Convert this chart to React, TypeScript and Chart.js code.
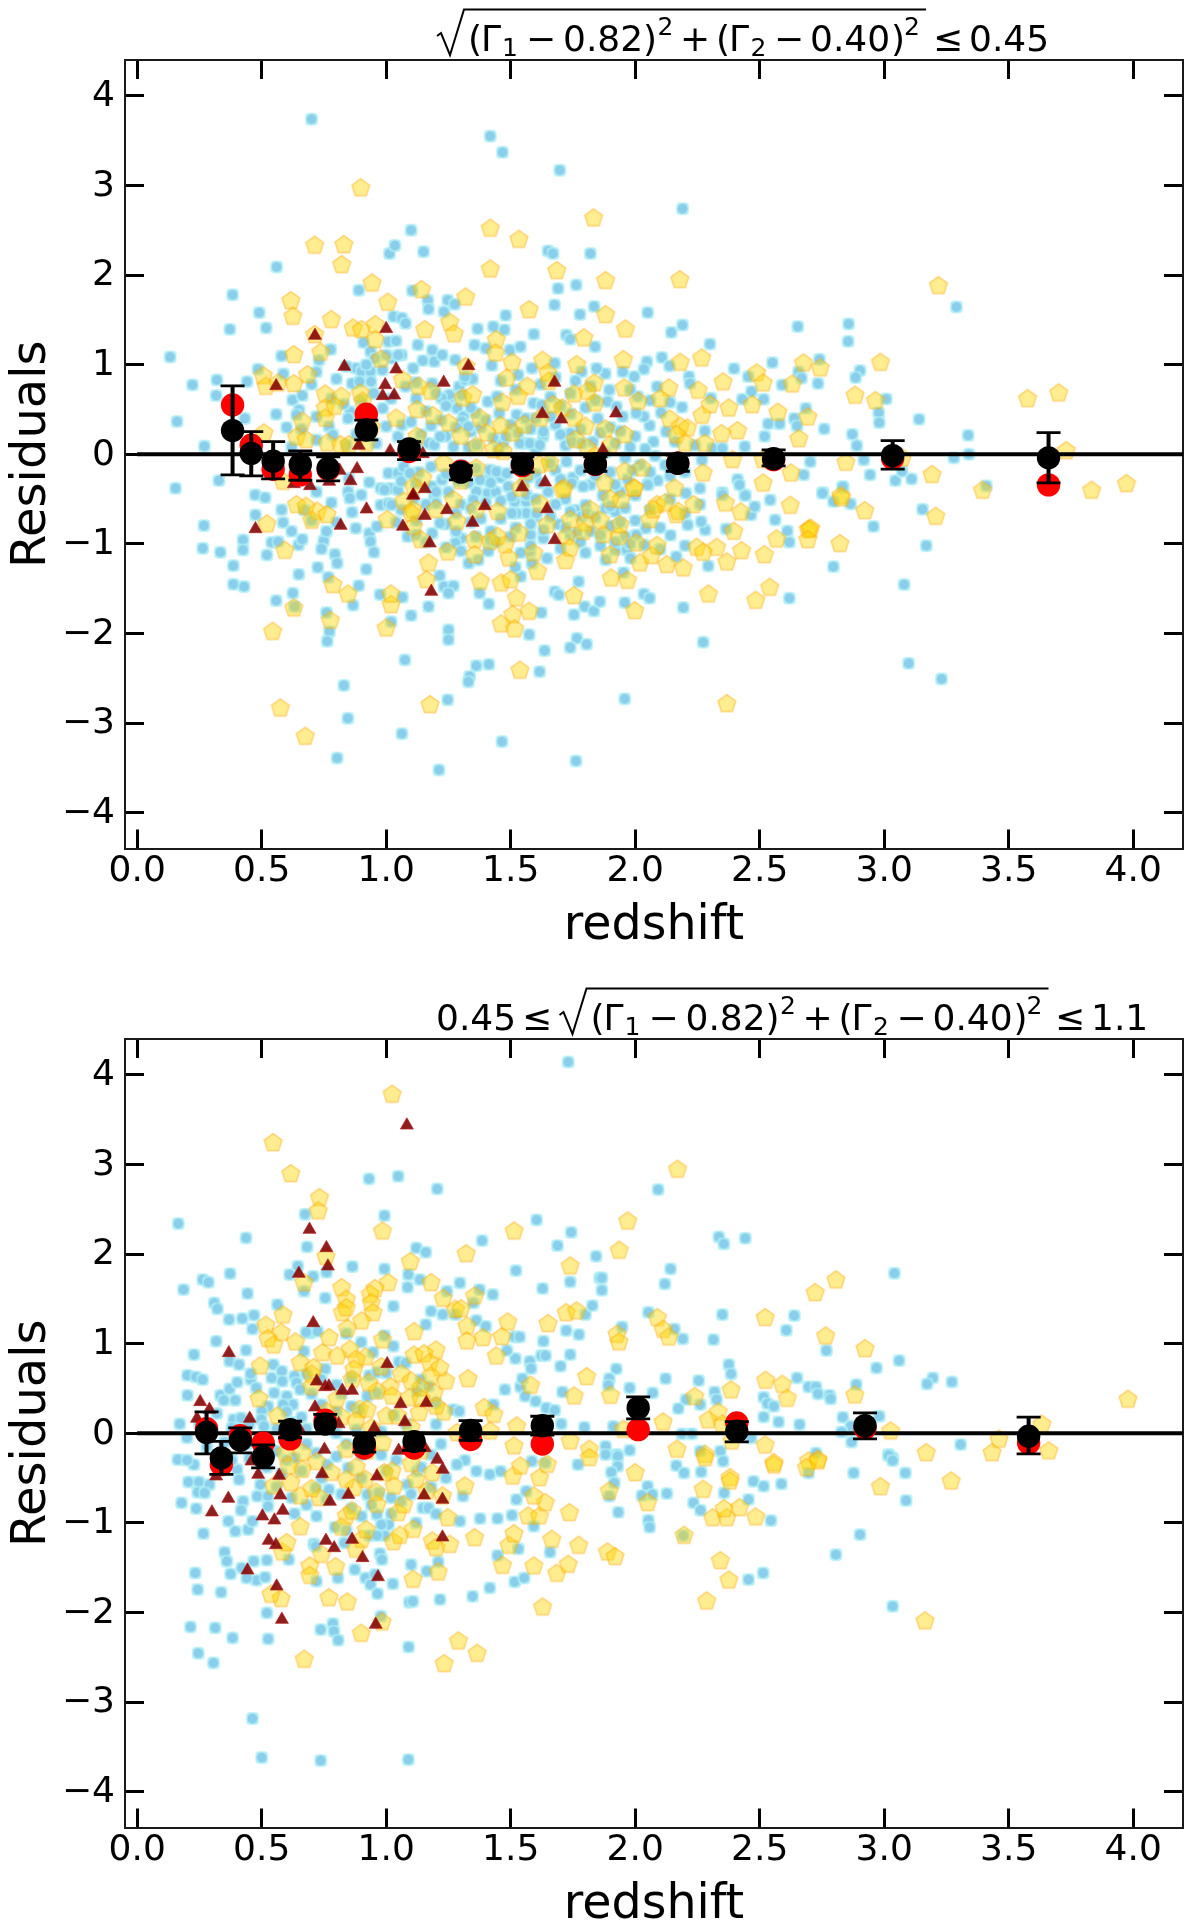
import React, { useEffect, useRef } from "react";
import { Chart, registerables } from "chart.js";

Chart.register(...registerables);

const xTickValues = [0, 0.5, 1, 1.5, 2, 2.5, 3, 3.5, 4];
const yTickValues = [-4, -3, -2, -1, 0, 1, 2, 3, 4];

const topBlue: number[][] = [
[.70,3.74],[1.418,3.55],[1.467,3.37],[1.697,3.17],[.56,2.09],[.383,1.78],[.49,1.58],[.372,1.395],[.518,1.41],[.132,1.086],[.222,.774],[.32,.83],[.317,.655],[.441,.81],[.16,.365],[.27,.09],[.328,-.294],[.154,-.38],[.58,1.097],[.587,.897],[.485,.95],[.777,1.17],[.73,1.05],[.89,1.83],[1.013,2.24],[1.035,2.33],[1.10,2.5],[1.15,2.26],[1.105,1.826],[1.167,1.72],[1.17,1.62],[1.247,1.72],[1.275,1.674],[1.232,1.59],[1.03,1.536],[1.063,1.52],[1.078,1.46],[1.367,1.4],[1.43,1.425],[1.475,1.39],[1.48,1.55],[1.593,1.34],[1.65,2.27],[1.67,2.24],[1.82,2.24],[1.69,1.85],[1.676,1.667],[1.763,1.89],[1.778,1.56],[1.835,1.65],
[2.19,2.74],[2.05,1.58],[2.19,1.443],[2.145,1.36],[2.30,1.23],[2.653,1.425],[2.857,1.455],[2.855,1.26],[3.29,1.644],[2.903,.934],[2.885,.856],[3.008,.617],[2.978,.465],[2.98,.353],[3.14,.39],[3.337,.212],[3.34,0],[3.28,-.04],[2.74,1.06],[2.551,1.023],[2.397,.956],[2.107,1.08],[2.047,1.034],[2.035,.95],[2.138,.986],[2.216,.867],[2.22,.79],[2.454,.867],[2.467,.70],[2.43,.614],[2.516,.614],[2.59,.774],[2.656,.92],[2.668,.85],[2.734,.79],[2.685,.513],[2.639,.40],[2.65,.316],[2.759,.283],[2.872,.223],[2.89,.097],[2.918,-.063],[2.943,-.23],[3.045,-.294],[3.072,-.19],[3.11,-.275],[2.703,-.085],[2.677,-.23],[2.754,-.428],[2.834,-.368],[3.41,-.353],[2.534,.339],[2.58,.339],[2.52,.2],[2.44,.086],[2.311,.067],[2.35,.067],[2.268,-.063],[2.411,-.28],[2.44,-.454],[2.35,-.428],[2.26,-.38],[2.09,-.294],[2.053,-.33],[2.204,-.435],[2.188,.525],[2.104,.465],[2.058,.32],[2.035,.42],[2.124,.253],[2.073,.14],[2.0,.2],[2.088,.755],[2.01,.644],[1.88,.9],[1.996,.867],[1.95,.92],[1.896,.718],[1.889,.588],[2.004,.458],[2.304,.625],
[.474,-.454],[.514,-.484],[.475,-.677],[.586,-.763],[.268,-.796],[.263,-1.05],[.334,-1.094],[.425,-.956],[.425,-1.068],[.386,-1.243],[.386,-1.451],[.429,-1.477],[.521,-1.124],[.54,-.983],[.566,-.975],[.648,-1.012],[.663,-.949],[.749,-.967],[.74,-1.057],[.794,-1.116],[.803,-1.216],[.725,-1.262],[.649,-1.34],[.767,-1.373],[.89,-1.466],[.92,-1.283],[.625,-1.55],[.558,-1.633],[.632,-1.7],[.76,-1.767],[.867,-1.685],[.772,-1.98],[.763,-2.087],[.975,-1.566],[1.065,-1.596],[1.02,-1.868],[1.1,-1.8],[1.17,-1.7],[1.075,-2.295],[1.25,-1.96],[1.25,-2.07],[1.215,-1.354],[1.232,-1.477],[1.27,-1.47],[1.25,-1.55],[1.375,-1.55],[1.412,-1.67],[1.362,-2.36],[1.412,-2.345],[1.335,-2.48],[1.33,-2.54],[.83,-2.58],[.846,-2.947],[1.247,-2.74],[1.063,-3.118],[1.465,-3.207],[.803,-3.39],[1.212,-3.523],[1.762,-3.423],[1.616,-2.426],[1.636,-2.191],[1.574,-2.013],[1.677,-1.533],[1.693,-1.57],[1.773,-1.421],[1.754,-1.79],[1.797,-1.7],[1.834,-1.75],[1.766,-2.053],[1.739,-2.158],[1.805,-2.12],[1.623,-1.767],[1.54,-1.365],[1.519,-1.26],[1.585,-1.216],
[1.958,-2.73],[2.273,-2.098],[2.619,-1.607],[2.193,-1.711],[2.035,-1.559],[2.058,-1.607],[1.958,-1.655],[1.858,-1.645],[2.796,-1.254],[2.293,-1.247],[3.169,-1.02],[3.08,-1.455],[3.098,-2.333],[3.23,-2.508],[3.154,-.614],[2.957,-.807],[2.611,-.856],[2.619,-.982],[2.562,-.733],[2.211,-.789],[2.281,-.845],[2.265,-.752],[2.142,-.904],[2.165,-1.142],[2.2,-1.02],[1.953,-1.321],[2.465,-.677],[2.48,-.585],[2.442,-.461],[2.419,-.342],[2.35,-.454],[2.542,-.51],[2.796,-.528],[2.752,-.435],[2.865,-.554],[2.834,-.361],[2.365,-.833],[2.042,-.826],[2.004,-.9],[1.881,-.603],[1.92,-.64],[2.05,-.343],[1.881,-1.179],[1.92,-1.068],[1.966,-1.068],[1.981,-1.161],[2.035,-1.012],
[.909,1.246],[.937,1.146],[.955,1.07],[1.009,1.257],[1.04,1.265],[1.024,1.07],[1.062,1.108],[1.127,1.22],[1.185,1.164],[1.147,1.045],[1.193,1.034],[1.225,1.108],[1.277,1.053],[1.355,1.22],[1.4,1.183],[1.424,.99],[1.497,1.164],[1.539,1.2],[1.585,.96],[1.677,1.016],[1.723,1.332],[1.739,1.283],[1.839,1.2],[.878,.96],[.901,.923],[.937,.923],[.985,.94],[1.108,.96],[.863,.79],[.893,.81],[.939,.81],[1.078,.755],[1.293,.755],[1.316,.83],[1.347,.84],[1.185,.79],[.624,.606],[.663,.655],[.65,.495],[.558,.446],[.64,.44],[.432,.4],[.855,.476],[.847,.40],[.77,.31],[.786,.216],[.986,.513],[1.0,.31],[1.063,.327],[1.047,.197],[1.254,.625],[1.285,.513],[1.34,.253],[1.408,.588],[1.445,.644],[1.454,.458],[1.524,.44],[1.592,.57],[1.631,.513],[1.739,.234],[1.17,.123],[1.193,.104],[1.27,.086],[1.562,.123],[1.6,.067],[1.009,-.212],[.85,-.268],[.932,-.3125],[.978,-.38],[1.016,-.38],[1.047,-.212],[1.185,-.36],[1.224,-.286],[1.408,-.286],
[.847,-.417],[.9,-.454],[.863,-.647],[.878,-.826],[.932,-.882],[.937,-.975],[.951,-1.094],[.963,-.807],[.978,-.566],[.993,-.398],[1.047,-.398],[1.009,-.547],[1.185,-.882],[1.086,-.919],[1.193,-.472],[1.2,-.547],[1.301,-.937],[1.278,-.993],[1.331,-1.216],[1.37,-1.18],[1.408,-.435],[1.362,-.417],[1.516,-.528],[1.562,-.528],[1.562,-.658],[1.523,-.658],[1.6,-.696],[1.761,-.622],[1.8,-.566],[1.785,-.696],[1.646,-1.161],[1.577,-1.086],[1.631,-.937],
];

const topBlueDense: number[][] = [
[1.12,.62],[1.16,.48],[1.22,.38],[1.31,.42],[1.38,.3],[1.43,.18],[1.5,.33],[1.58,.28],[1.63,.2],[1.68,.33],[1.74,.45],[1.8,.52],[1.85,.4],[1.9,.3],[1.95,.42],[1.98,.08],[1.72,.1],[1.83,.14],[1.92,.12],[1.66,.64],[1.74,.68],[1.82,.76],[1.62,.78],[1.52,.72],[1.46,.82],[1.14,.22],[1.08,.1],[1.24,.2],[1.33,.08],[1.45,.06],[1.07,-.14],[1.13,-.2],[1.29,-.3],[1.36,-.16],[1.46,-.26],[1.6,-.22],[1.68,-.18],[1.75,-.26],[1.82,-.34],[1.9,-.2],[1.97,-.28],[2.02,-.12],[2.12,-.12],[2.2,-.2],[2.24,.1],[2.28,.26],[1.06,-.3],[1.11,-.5],[1.25,-.42],[1.3,-.56],[1.44,-.42],[1.49,-.36],[1.55,-.34],[1.65,-.42],[1.72,-.5],[1.87,-.46],[1.94,-.42],[1.46,-.72],[1.52,-.82],[1.58,-.9],[1.69,-.78],[1.74,-.9],[1.82,-.86],[1.9,-.8],[1.96,-.92],[1.34,-.76],[1.42,-.86],[1.24,-.78],[1.12,-.74],[1.06,-.62],[1.7,-1.05],[1.8,-1.1],[1.86,-1.02],[1.54,-1.1],[1.41,-1.08],[.78,.62],[.83,.56],[.9,.6],[.95,.68],[1.02,.62],[.72,.42],[.92,.34],[.96,.12],[.88,.22],[.72,-.42],[.78,-.54],[.67,-.62],
[1.222,1.108],[1.149,1.045],[.935,.922],[.981,.922],[.941,.81],[.865,.792],[1.048,1.108],[1.0,1.108],[1.008,1.257],[1.042,1.268],[1.253,.662],[1.222,.624],[1.303,.662],[1.35,.848],[1.316,.866],[1.403,.606],[1.443,.662],[1.457,.457],[1.584,.576],[1.624,.55],[1.631,.252],[1.537,.122],[1.577,.122],[1.617,.104],[1.658,-.101],[1.724,-.083],[1.745,.141],[1.785,.122],[1.898,.717],[1.892,.569],[1.925,.531],[1.845,.959],[1.885,.922],[1.952,.922],[1.785,.922],[1.59,.959],[1.53,.885],[1.584,1.331],[1.537,1.182],[1.35,1.22],[1.423,.985],[.995,.308],[1.048,.215],[1.068,.345],[1.122,.122],[1.162,.122],[1.216,.197],[1.2,.104],[1.263,.085],[1.303,.364],[1.33,.308],[1.47,.122],[1.363,.104],[1.417,-.175],[1.443,-.194],[1.484,-.213],[1.376,-.287],[1.37,-.436],[1.41,-.436],[1.008,-.213],[1.055,-.287],[1.095,-.213],[.981,-.361],[1.022,-.361],[.928,-.324],[.854,-.492],[.901,-.436],[.975,-.585],[1.022,-.566],[.861,-.64],[.881,-.827],[.935,-.882],[.948,-1.098],[.8,-1.106],[.8,-1.217],[.917,-1.284],[1.189,-.882],[1.216,-.77],[1.276,-.994],[1.309,-.92],[1.35,-.51],[1.504,-.473],[1.564,-.455],[1.504,-.659],[1.564,-.659],[1.604,-.659],[1.631,-.845],[1.644,-1.143],[1.765,-.882],[1.811,-.585],[1.878,-.585],[1.805,-.659],[1.925,-.659],[1.417,-.957],[1.745,-.324],[1.791,-.361],
[1.98,.72],[2.06,.6],[2.14,.58],[2.16,.14],[2.04,.06],[1.88,.02],[1.96,-.04],[2.08,-.02],[2.14,-.24],[2.0,-.46],[2.06,-.62],[2.14,-.5],[2.2,-.66],[2.26,-.56],[1.94,-.76],[2.1,-.82],[1.98,-1.0],[2.1,-1.06],[.72,.16],[.66,.28],[.6,.3],[.84,.1],[.62,.08],[.7,.78],[.8,.84],[.72,.92],[.84,.98],[.92,1.0],[.62,-.86],[.7,-.74],[.8,-.76],[.76,-.86],[.58,-.62],
[1.28,.3],[1.36,.46],[1.4,.38],[1.48,.2],[1.53,.24],[1.56,.4],[1.66,.42],[1.7,.22],[1.78,.28],[1.86,.24],[1.94,.26],[1.84,.6],[1.7,.54],[1.6,.4],[1.76,.82],[1.68,.86],[1.12,-.32],[1.18,-.14],[1.24,-.22],[1.3,-.12],[1.33,-.32],[1.42,-.32],[1.52,-.14],[1.57,-.26],[1.62,-.32],[1.7,-.28],[1.78,-.18],[1.84,-.24],[1.92,-.34],[1.99,-.18],[2.06,-.2],[1.16,-.56],[1.2,-.42],[1.28,-.66],[1.34,-.6],[1.4,-.54],[1.46,-.52],[1.52,-.56],[1.6,-.5],[1.68,-.56],[1.74,-.64],[1.84,-.7],[1.9,-.58],[1.96,-.6],[2.0,-.74],[1.38,-.72],[1.44,-.98],[1.5,-.92],[1.58,-.78],[1.66,-.7],[1.72,-.82],[1.78,-.98],[1.86,-.9],[1.28,-.86],[1.36,-.92],[1.12,-.9],[1.16,-.98],[1.04,-.76],[1.24,-1.04],[1.3,-1.08],[1.58,-1.02],[1.92,-.98],[1.1,.36],[1.18,.32],[1.24,.54],[1.34,.52],[1.2,.68],[1.12,.8],
];

const topYellow: number[][] = [
[.898,2.97],[1.833,2.634],[1.418,2.519],[1.533,2.396],[.713,2.33],[.83,2.336],[.821,2.113],[1.418,2.065],[1.685,2.046],[.943,1.908],[1.142,1.834],[1.319,1.752],[1.006,1.693],[.617,1.711],[.625,1.536],[.78,1.5],[1.574,1.61],[1.255,1.47],[1.273,1.34],[1.155,1.388],[.867,1.406],[.901,1.388],[.956,1.443],[.713,1.332],[.956,1.276],[1.442,1.276],[1.439,1.127],[1.794,1.295],[.629,1.108],[.737,1.135],[.978,1.06],[1.505,1.023],[1.628,1.045],[1.765,.997],[1.32,.978],[.506,.874],[.684,.885],[.517,.755],[.566,.792],[.629,.785],[1.065,.83],[1.13,.755],[1.178,.7],[1.485,.848],[1.649,.904],[1.654,.811],[1.567,.755],[1.836,.792],[.755,.67],[.82,.644],[.897,.68],[.906,.588],[1.124,.495],[1.188,.428],[1.251,.346],[1.308,.625],[1.347,.662],[1.467,.577],[1.531,.644],[1.754,.67],[1.808,.7],[1.67,.55],[1.708,.513],[1.754,.4],[1.8,.31],[.755,.513],[.794,.532],[.663,.365],[.755,.4],[1.377,.4],[1.404,.234],[1.508,.234],[1.554,.327],[.509,.234],[.64,.19],[.678,.16],[.763,.123],[.817,.104],[.851,.104],[1.124,.197],[1.362,.086],[1.431,.048],[1.808,.067],[1.231,-.1],[1.362,-.156],[1.616,-.119],[.586,-.305],[1.715,-.38],[1.147,-.268],
[1.881,1.935],[2.179,1.946],[3.218,1.879],[1.881,1.555],[1.961,1.395],[1.953,1.053],[2.181,1.023],[2.267,1.071],[2.985,1.023],[2.676,1.016],[2.743,.96],[2.488,.904],[2.514,.792],[2.353,.804],[2.631,.781],[1.956,.737],[2.135,.737],[2.253,.711],[2.1,.618],[2.883,.655],[2.965,.595],[3.576,.618],[3.701,.681],[2.012,.588],[2.3,.55],[2.376,.513],[2.47,.55],[2.573,.465],[2.693,.413],[2.139,.39],[2.268,.432],[2.411,.26],[2.181,.31],[2.21,.29],[2.347,.227],[2.657,.171],[2.165,.216],[2.2,.123],[1.958,.216],[3.731,.037],[2.391,-.063],[2.846,-.093],[2.514,-.063],[2.273,-.212],[2.626,-.212],[2.514,-.324],[3.192,-.23],[3.395,-.405],[3.833,-.405],[3.973,-.331],[2.027,-.156],[1.958,-.193],[1.996,-.38],[2.158,-.38],[2.826,-.465],[3.072,-.045],
[2.235,-.565],[2.362,-.547],[2.424,-.647],[2.623,-.573],[2.829,-.491],[2.922,-.632],[3.207,-.696],[2.165,-.677],[2.70,-.837],[2.695,-.845],[2.705,-.83],[2.693,-.956],[2.568,-.949],[2.822,-1.0],[2.396,-.863],[2.327,-1.042],[2.247,-1.042],[2.273,-1.097],[2.427,-1.079],[2.519,-1.124],[2.368,-1.205],[2.193,-1.272],[2.127,-1.235],[2.019,-1.216],[2.065,-1.135],[2.088,-1.02],[1.9,-1.124],[1.904,-1.384],[1.969,-1.41],[2.294,-1.563],[2.54,-1.488],[2.484,-1.633],[1.998,-1.749],[2.368,-2.786],[2.058,-.733],[2.004,-.993],[1.935,-.919],[1.873,-.9],[1.943,-.51],[1.996,-.379],[2.088,-.565],[2.119,-.547],[2.173,-.64],[2.073,-.621],
[.544,-1.98],[.575,-2.835],[.675,-3.151],[1.176,-2.798],[1.537,-2.414],[1.0,-1.942],[.629,-1.719],[.776,-1.857],[1.02,-1.682],[1.019,-1.563],[.786,-1.458],[.847,-1.563],[.593,-1.075],[.521,-.781],[.64,-.566],[.678,-.584],[.724,-.64],[.762,-.677],[.701,-.74],[1.004,-.733],[1.07,-.528],[1.108,-.622],[1.139,-.956],[1.17,-1.217],[1.162,-1.403],[1.247,-1.094],[1.27,-.51],[1.284,-.752],[1.355,-.956],[1.355,-1.124],[1.378,-1.421],[1.462,-1.44],[1.5,-1.403],[1.523,-1.607],[1.508,-1.793],[1.574,-1.756],[1.462,-1.897],[1.516,-1.953],[1.608,-1.31],[1.72,-1.19],[1.754,-1.581],[1.739,-.733],[1.534,-.882],[1.647,-.789],[1.725,-.919],[1.739,-1.049],[1.592,-1.105],[1.493,-1.161],[1.478,-1.012],[1.447,-.919],[1.447,-.64],[1.362,-.622],[1.708,-.398],[1.8,-.77],[1.539,-.38],[1.1,-.658],
];

const topYellowDense: number[][] = [
[1.88,.28],[1.9,.1],[1.76,.16],[1.84,-.02],[1.62,.4],[1.46,.32],[1.1,.02],[1.3,.2],[1.04,.4],[.94,.3],[.92,.12],[1.9,-.5],[1.82,-.62],[1.86,-.74],[1.62,-.56],[1.3,-.3],[1.2,-.62],[1.56,-.2],[2.28,.12],
[1.443,1.275],[1.437,1.127],[1.504,1.034],[1.631,1.052],[1.658,.903],[1.483,.836],[1.564,.736],[1.53,.643],[1.463,.587],[1.343,.662],[1.31,.624],[1.176,.699],[1.129,.755],[1.069,.836],[.821,.643],[.794,.539],[1.129,.494],[1.182,.438],[1.249,.345],[1.376,.4],[1.403,.234],[1.51,.234],[1.557,.327],[1.671,.55],[1.711,.494],[1.758,.42],[1.798,.308],[1.872,.271],[1.838,.569],[1.805,.699],[1.751,.68],[1.845,.792],[1.959,.234],[1.129,.215],[1.363,.085],[1.43,.066],[1.47,.029],[1.805,.066],[1.912,.066],[1.236,-.101],[1.363,-.157],[1.617,-.175],[1.658,-.101],[1.155,-.268],[1.109,-.361],[1.062,-.529],[1.109,-.622],[1.269,-.51],[1.45,-.64],[1.463,-.659],[1.0,-.733],[1.109,-.808],[1.135,-.957],[1.249,-1.087],[1.169,-1.217],[1.283,-.808],[1.35,-1.106],[1.363,-.957],[1.417,-.975],[1.483,-1.031],[1.504,-1.161],[1.537,-.882],[1.631,-.808],[1.738,-.733],[1.731,-.92],[1.738,-1.031],[1.718,-1.18],[1.791,-.864],[1.845,-.752],[1.878,-.901],[1.939,-.789],[1.597,-1.106],[1.611,-1.31],[1.899,-1.124],[1.718,-.399],[1.878,-.324],[1.959,-.194],[1.959,-.492],
];

const topTriangle: number[][] = [
[.714,1.324],[1.0,1.4],[.832,.978],[1.04,.949],[1.33,.986],[.558,.763],[.996,.774],[1.231,.8],[1.676,.8],[.986,.651],[1.032,.658],[1.627,.45],[1.703,.39],[.89,.097],[1.016,.037],[1.147,.004],[.813,-.182],[.883,-.164],[.857,-.298],[.629,-.331],[.694,-.353],[.771,-.305],[1.155,-.387],[1.109,-.454],[1.546,-.368],[1.638,-.312],[1.923,.458],[1.87,.048],[.475,-.834],[.817,-.796],[.921,-.614],[1.067,-.807],[1.155,-.685],[1.108,-.461],[1.244,-.621],[1.347,-.763],[1.396,-.577],[1.646,-.61],[1.175,-.993],[1.181,-1.533],[1.677,-.956],
];

const topRedZ = [.383,.458,.546,.655,.767,.92,1.092,1.30,1.547,1.84,2.171,2.556,3.034,3.66];
const topRedY = [.55,.10,-.167,-.23,-.17,.446,.03,-.19,-.127,-.115,-.10,-.06,-.045,-.342];
const topBlackZ = [.383,.458,.546,.655,.767,.92,1.092,1.30,1.547,1.84,2.171,2.556,3.034,3.66];
const topBlackY = [.264,.01,-.078,-.115,-.156,.27,.06,-.2,-.11,-.108,-.10,-.05,-.015,-.04];
const topBlackHi = [.763,.253,.14,.037,-.03,.38,.14,-.127,-.03,-.03,-.01,.048,.153,.242];
const topBlackLo = [-.23,-.242,-.275,-.29,-.298,.16,-.06,-.286,-.2,-.19,-.19,-.13,-.167,-.32];

const botBlue: number[][] = [
[1.731,4.144],[.931,2.839],[1.048,2.868],[1.205,2.727],[.165,2.34],[.674,2.444],[.993,2.429],[1.604,2.381],[1.743,2.243],[1.385,2.15],[1.688,2.094],[1.121,2.068],[1.159,2.02],[.437,2.18],[.682,2.08],[1.843,1.975],[.864,1.86],[1.521,1.815],[.993,1.834],[.645,1.864],[.612,1.771],[.707,1.752],[.76,1.797],[.67,1.585],[.373,1.782],[.263,1.715],[.286,1.685],[.186,1.603],[.443,1.559],[.309,1.455],[.322,1.388],[.369,1.269],[.422,1.28],[.469,1.317],[.463,1.164],[.317,1.027],[.563,1.436],[.755,1.51],[1.089,1.771],[1.135,1.715],[1.086,1.63],[1.029,1.417],[1.296,1.678],[1.244,1.585],[1.18,1.362],[1.227,1.325],[1.278,1.325],[1.35,1.455],[1.375,1.603],[1.428,1.548],[1.739,1.689],[1.628,1.615],[1.858,1.734],[1.362,1.261],[1.4,1.194],[1.159,1.213],[1.723,1.146],[1.774,1.101],[1.8,1.325],[1.828,1.425],[1.631,1.027],[1.516,1.075],[1.536,1.075],[1.739,.878],[1.7,.748],[1.623,.867],[1.64,.867],[1.519,.833],[1.485,.923],[1.577,.804],[1.582,.722],[1.477,.487],[1.539,.517],[1.547,.61],[1.558,.413],[1.6,.357],[1.643,.283],[1.708,.461],[1.677,.257],[1.703,.104],[1.796,.067],
[.228,.878],[.437,.926],[.371,.804],[.409,.766],[.202,.647],[.236,.629],[.263,.599],[.202,.424],[.334,.424],[.371,.495],[.402,.569],[.394,.368],[.348,.368],[.171,.104],[.387,.153],[.417,.171],[.456,.599],[.456,.666],[.478,.506],[.54,.618],[.547,.766],[.581,.692],[.583,.58],[.632,.636],[.64,.562],[.655,.487],[.601,.413],[.625,.32],[.586,.32],[.55,.45],[.525,.301],[.5,.245],[.498,.153],[.509,.078],[.693,1.12],[.724,1.138],[.678,1.127],[.9,1.016],[1.029,.971],[.993,1.09],[.84,1.112],[.67,.915],[.947,.904],[1.051,.796],[1.078,.785],[.755,.718],[.932,.644],[.963,.681],[1.0,.673],[1.139,.599],[1.17,.525],[1.124,.469],[1.2,.339],[1.27,.264],[1.293,.245],[1.431,.32],[.924,.413],[.963,.45],[.893,.264],
[2.092,2.719],[2.336,2.191],[2.356,2.113],[2.442,2.176],[3.041,1.786],[2.142,1.834],[1.866,1.734],[2.119,1.667],[1.866,1.596],[2.35,1.324],[2.639,1.313],[2.053,1.35],[2.607,1.15],[2.314,1.045],[2.191,1.053],[2.158,1.164],[1.947,1.187],[2.768,.923],[3.06,.811],[2.969,.729],[2.376,.766],[2.385,.662],[2.122,.61],[2.65,.618],[1.924,.718],[1.896,.61],[1.892,.536],[3.195,.618],[3.172,.55],[3.272,.573],[2.255,.588],[2.696,.517],[2.726,.517],[2.734,.439],[2.78,.424],[2.785,.383],[2.888,.543],[2.319,.461],[2.327,.376],[2.07,.45],[1.978,.506],[2.204,.376],[2.261,.32],[2.173,.275],[2.516,.402],[2.531,.331],[2.557,.301],[2.516,.182],[2.576,.126],[2.66,.097],[2.834,.179],[2.98,.19],[2.865,.078],[2.829,.015],[2.869,-.097],[3.307,-.126],[3.018,-.238],[3.034,-.275],[2.188,-.007],[2.227,-.007],[2.465,-.052],[1.978,-.19],[1.927,-.238],[1.881,-.145],[2.261,-.2],[2.342,-.2],[1.912,.078],[2.726,-.22],
[1.881,-.238],[1.93,-.257],[1.93,-.368],[1.904,-.435],[1.916,-.554],[1.896,-.703],[1.932,-.882],[2.165,-.361],[2.196,-.443],[2.265,-.432],[2.353,-.312],[2.05,-.592],[2.027,-.695],[2.069,-.684],[2.127,-.673],[2.234,-.777],[2.262,-.859],[2.357,-.666],[2.455,-.74],[2.475,-.536],[2.516,-.591],[2.587,-.565],[2.545,-.975],[2.053,-.971],[2.058,-1.049],[2.193,-1.142],[2.877,-.443],[3.085,-.443],[3.088,-.751],[2.903,-1.131],[2.806,-1.354],[2.514,-1.559],[2.455,-1.633],[3.034,-1.931],[3.018,-.249],[3.034,-.305],[2.696,-.443],
[.463,-3.184],[.5,-3.62],[.737,-3.653],[1.089,-3.642],[1.09,-2.385],[.306,-2.563],[.245,-2.455],[.214,-2.161],[.313,-2.172],[.383,-2.284],[.526,-2.295],[.521,-2.005],[.243,-1.745],[.337,-1.775],[.233,-1.559],[.375,-1.57],[.351,-1.328],[.36,-1.428],[.266,-1.12],[.178,-.777],[.237,-.841],[.206,-.543],[.248,-.543],[.29,-.573],[.243,-.658],[.271,-.666],[.228,-.35],[.163,-.294],[.366,-.982],[.394,-1.094],[.445,-1.075],[.463,-.982],[.42,-1.503],[.468,-1.428],[.521,-1.417],[.479,-1.64],[.514,-1.607],[.44,-1.615],[.609,-1.41],[.72,-1.651],[.806,-1.615],[.874,-1.522],[.917,-1.615],[.937,-1.689],[.955,-1.577],[.965,-1.79],[.975,-1.343],[.983,-1.41],[1.027,-1.681],[1.1,-1.466],[1.093,-1.886],[1.107,-1.875],[1.216,-1.856],[1.347,-1.82],[1.416,-1.726],[1.447,-1.365],[1.516,-1.659],[1.554,-1.615],[1.658,-1.328],[1.531,-1.29],[1.163,-1.54],[1.209,-1.436],[.978,-2.042],[.737,-2.191],[.786,-2.124],[.79,-2.21],[.807,-2.31],[.709,-1.235],[.717,-1.26],[.794,-1.049],[.84,-1.086],[.832,-1.224],[.932,-1.142],[.993,-1.142],[.963,-1.142],[1.009,-1.019],[.72,-.926],[.632,-.897],[.901,-.926],[.963,-.908],[1.059,-.759],[1.147,-.833],[1.17,-.833],[1.296,-.982],[1.377,-.952],[1.447,-.952],[1.505,-.915],[1.593,-1.038],[1.523,-.74],[1.316,-.301],[1.284,-.35],[1.362,-.424],[1.416,-.461],[1.459,-.424],[1.308,-.703],[1.77,-.35],[1.639,-.331],[1.585,-.312],[1.562,-.647],[1.124,-.424],[1.086,-.573],[.924,-.684],[.97,-.666],[.77,-.629],[.717,-.61],[.482,-.703],[.525,-.703],[.495,-.573],[.425,-.759],[.417,-.859],[.525,-.815],[.401,-.405],[.409,-.517],[.632,-.275],[.763,-.35],[.847,-.387],
[.74,.32],[.8,.24],[.86,.3],[1.03,.2],[1.08,.1],[1.2,.1],[.62,.12],[.68,.05],[.8,.0],[.56,.05],[.45,.1],[.35,-.1],[.3,.05],[.25,.1],[.2,-.05],[.2,-.3],[.28,-.15],[.38,-.3],[.45,-.28],[.56,-.2],[.68,-.12],[.84,-.12],[.98,-.24],[1.04,-.3],[1.18,-.24],[1.22,-.12],[.66,-.42],[.74,-.5],[.58,-.45],[.9,-.5],[1.0,-.42],
[.7,.44],[.74,.6],[.68,.66],[.8,.54],[.86,.62],[.82,.44],[.6,.24],[.66,.18],[.76,.1],[.88,.04],[.98,.02],[1.1,-.04],[.32,.22],[.38,.06],[.44,-.12],[.52,-.38],[.6,-.3],[.72,-.22],[.8,-.26],[.9,-.24],[1.14,-.38],[1.24,-.5],[.56,-.6],[.62,-.72],[.68,-.8],[.76,-.74],[.82,-.68],[.86,-.84],[.94,-.8],[1.02,-.72],[1.02,-.9],[1.1,-.68],[1.18,-.6],[1.2,-.9],[.98,-1.02],[1.12,-1.0],
];

const botYellow: number[][] = [
[1.024,3.78],[.546,3.24],[.617,2.894],[.732,2.627],[.727,2.478],[.985,2.254],[1.514,2.254],[1.097,1.912],[1.321,2.0],[.758,1.968],[1.739,1.864],[.67,1.678],[1.008,1.678],[1.18,1.678],[.821,1.622],[.955,1.611],[.936,1.548],[1.229,1.503],[1.355,1.529],[.84,1.492],[.94,1.455],[.947,1.343],[.824,1.343],[.84,1.399],[1.278,1.38],[1.301,1.388],[.901,1.25],[.586,1.317],[1.723,1.343],[1.765,1.362],[1.488,1.239],[1.65,1.22],[.517,1.202],[.578,1.12],[.844,1.168],[1.324,1.194],[1.113,1.131],[.771,1.064],[.525,1.053],[.548,.982],[.636,1.016],[.985,1.038],[1.324,1.027],[1.388,1.064],[1.465,1.075],[.855,.934],[.744,.897],[.804,.859],[.917,.848],[.88,.822],[1.2,.926],[1.112,.87],[1.152,.885],[1.175,.785],[1.442,.859],[.655,.785],[.494,.748],[.709,.729],[.701,.655],[.87,.711],[.863,.599],[1.216,.729],[1.179,.636],[1.239,.58],[1.329,.606],[1.805,.629],[1.58,.532],[1.755,.413],[1.017,.517],[.963,.469],[1.024,.413],[1.193,.45],[1.139,.506],[.801,.376],[.489,.383],[.893,.264],[.924,.264],[1.093,.394],[1.231,.234],[1.394,.283],[1.432,.208],[1.132,.227],[1.0,.19],[1.047,.19],[.563,.19],[.878,.134],[1.524,.078],[1.418,.022],[1.285,.004],[1.513,-.145],[1.739,-.089],[1.816,-.182],[.594,-.22],[.663,-.22],[.84,-.182],[.924,-.2],[.985,-.108],
[2.170,2.943],[1.97,2.366],[1.936,2.039],[2.806,1.708],[2.723,1.566],[2.522,1.287],[2.765,1.083],[2.923,.941],[3.979,.376],[2.089,1.287],[2.112,1.157],[2.135,1.071],[1.927,1.101],[1.935,1.016],[2.524,.588],[2.591,.543],[2.611,.387],[2.385,.48],[2.239,.406],[1.901,.42],[2.882,.424],[2.334,.234],[2.293,.145],[2.112,.123],[2.35,.097],[1.953,.041],[3.026,.022],[3.633,.097],[3.461,-.07],[2.522,-.134],[2.388,-.089],[2.168,-.182],[2.281,-.238],[3.169,-.22],[3.433,-.22],[3.661,-.2],[2.696,-.312],[2.734,-.294],[2.557,-.331],
[2.0,-.443],[2.281,-.275],[2.557,-.357],[2.734,-.312],[2.688,-.387],[2.985,-.599],[3.269,-.536],[2.381,-.498],[2.381,-.536],[2.273,-.629],[2.05,-.777],[1.896,-.647],[2.311,-.945],[2.368,-.945],[2.357,-.845],[2.419,-.833],[2.484,-.937],[2.196,-1.142],[1.889,-1.328],[1.919,-1.38],[2.342,-1.425],[2.376,-1.641],[2.287,-1.875],[3.164,-2.098],
[.671,-2.526],[1.233,-2.574],[1.29,-2.321],[1.365,-2.459],[.9,-2.236],[.983,-2.11],[.578,-1.849],[.537,-1.8],[.77,-1.838],[.844,-1.886],[1.108,-1.633],[1.209,-1.551],[.693,-1.484],[.797,-1.492],[.693,-1.589],[.583,-1.328],[.601,-1.224],[.74,-1.354],[.878,-1.298],[.901,-1.187],[.655,-1.045],[1.029,-1.213],[1.055,-1.142],[1.108,-1.075],[1.185,-1.205],[1.2,-1.28],[1.255,-1.243],[1.355,-1.168],[1.467,-1.477],[1.593,-1.484],[1.685,-1.566],[1.731,-1.466],[1.493,-1.254],[1.513,-1.124],[1.665,-1.187],[1.773,-1.254],[1.628,-1.942],[1.736,-.889],[1.57,-.926],[1.616,-.926],[1.639,-.777],[1.593,-.703],[1.247,-.945],[1.047,-.889],[.963,-.796],[.84,-.926],[.863,-.871],[.655,-.703],[.732,-.722],[.548,-.591],[.87,-.61],[.84,-.517],[.917,-.517],[1.032,-.591],[1.024,-.424],[.993,-.443],[1.185,-.443],[1.163,-.647],[1.226,-.703],[1.316,-.591],[1.508,-.48],[1.539,-.368],[1.616,-.499],[1.647,-.35],[1.816,-.275],[.617,-.554],[.663,-.405],[.608,-.368],
[.93,.56],[.98,.74],[.76,.24],[.82,.18],[.7,.52],[1.06,.66],[1.1,.58],[1.14,.38],[1.2,.3],[.94,.06],[1.1,.06],[.72,-.32],[.78,-.44],[.88,-.38],[1.1,-.34],[1.14,-.2],[.7,-.62],[.96,-.66],[1.07,-.8],[.82,-1.05],[.92,-1.08],[1.12,-.52],
];

const botTriangle: number[][] = [
[1.083,3.437],[.692,2.273],[.76,2.068],[.766,1.864],[.649,1.782],[.707,1.231],[.368,.897],[1.004,.774],[.721,.58],[.755,.517],[.77,.525],[.824,.476],[.863,.476],[.253,.35],[.29,.264],[.24,.164],[.452,.164],[.714,.29],[1.058,.327],[1.161,.339],[1.075,.126],[.809,.104],[.952,.06],[.648,.06],[.752,-.182],[1.05,-.193],[1.155,-.164],[1.205,-.294],[1.227,-.405],[.317,-.48],[.459,-.312],[.486,-.461],[.57,-.472],[.743,-.454],[.963,-.48],[.366,-.729],[.575,-.692],[.774,-.762],[.848,-.685],[1.152,-.692],[1.226,-.74],[.3,-.881],[.503,-.926],[.551,-.971],[.585,-.863],[1.226,-1.161],[.528,-1.198],[.557,-1.246],[.758,-1.198],[.791,-1.28],[.863,-1.187],[.905,-1.391],[.967,-1.604],[.443,-1.529],[.56,-1.708],[.581,-2.08],[.958,-2.135],
];

const botRedZ = [.2785,.338,.414,.506,.614,.755,.912,1.112,1.339,1.627,2.012,2.408,2.923,3.58];
const botRedY = [.05,-.35,-.026,-.11,-.063,.145,-.164,-.164,-.07,-.12,.04,.115,.06,-.108];
const botBlackZ = [.2785,.338,.414,.506,.614,.755,.912,1.112,1.339,1.627,2.012,2.408,2.923,3.58];
const botBlackY = [.01,-.275,-.078,-.264,.04,.104,-.115,-.093,.03,.085,.283,.022,.085,-.033];
const botBlackHi = [.238,-.09,.06,-.13,.134,.21,-.02,0,.14,.19,.405,.13,.227,.18];
const botBlackLo = [-.23,-.46,-.22,-.387,-.05,0,-.21,-.19,-.08,-.02,.16,-.097,-.063,-.23];

const zeroLineX = [0, 4.2];
const zeroLineY = [0, 0];

const topTitle = { before: "", after: "0.45" };
const botTitle = { before: "0.45", after: "1.1" };

const FONT = '"DejaVu Sans"';
const FRAME = "#1a1a1a";
const WIDTH = 1200;

const pts = (p: number[][]) => p.map(([x, y]) => ({ x, y }));
const zip = (a: number[], b: number[]) => a.map((x, i) => ({ x, y: b[i] }));

// Second-pass readings of the dense cores repeat some first-pass marks: keep a reading only if it is a new mark.
const merge = (base: number[][], extra: number[][], dx: number, dy: number) => {
  const all = [...base];
  extra.forEach(([x, y]) => {
    if (!all.some(([a, b]) => Math.abs(a - x) < dx && Math.abs(b - y) < dy)) all.push([x, y]);
  });
  return all;
};

function makeBlueSprite() {
  const c = document.createElement("canvas");
  c.width = 15;
  c.height = 15;
  const g = c.getContext("2d")!;
  g.fillStyle = "rgba(172,236,244,0.9)";
  g.beginPath();
  g.roundRect(1.25, 1.25, 12.5, 12.5, 3.8);
  g.fill();
  g.fillStyle = "rgba(135,206,235,0.95)";
  g.beginPath();
  g.arc(7.5, 7.5, 4.9, 0, Math.PI * 2);
  g.fill();
  return c;
}

function makePentagonSprite() {
  const c = document.createElement("canvas");
  c.width = 24;
  c.height = 24;
  const g = c.getContext("2d")!;
  const R = 9.4;
  g.beginPath();
  for (let i = 0; i < 5; i++) {
    const a = -Math.PI / 2 + (i * 2 * Math.PI) / 5;
    const px = 12 + R * Math.cos(a);
    const py = 12 + R * Math.sin(a);
    if (i) g.lineTo(px, py);
    else g.moveTo(px, py);
  }
  g.closePath();
  g.fillStyle = "rgba(255,215,0,0.44)";
  g.fill();
  g.strokeStyle = "rgba(255,165,0,0.4)";
  g.lineWidth = 1.6;
  g.stroke();
  return c;
}

const titlePlugin = (before: string, after: string) => ({
  id: "mathTitle",
  afterDraw(chart: any) {
    const g = chart.ctx;
    g.save();
    g.fillStyle = "#000";
    g.textBaseline = "alphabetic";
    g.textAlign = "left";
    const dx = before ? 122.5 : 0;
    const big = `36px ${FONT}`;
    const small = `25px ${FONT}`;
    const put = (t: string, x: number, y: number, f: string) => {
      g.font = f;
      g.fillText(t, x + dx, y);
    };
    if (before) {
      g.font = big;
      g.fillText(before, 436, 51);
      g.fillText("≤", 522, 51);
    }
    g.strokeStyle = "#000";
    g.lineWidth = 2;
    g.beginPath();
    g.moveTo(437 + dx, 36);
    g.lineTo(441 + dx, 33);
    g.lineTo(450 + dx, 55);
    g.lineTo(464 + dx, 9.5);
    g.lineTo(926 + dx, 9.5);
    g.stroke();
    put("(", 468, 51, big);
    put("Γ", 481, 51, big);
    put("1", 502, 56, small);
    put("−", 526, 51, big);
    put("0.82", 563, 51, big);
    put(")", 643, 51, big);
    put("2", 657.5, 35, small);
    put("+", 680, 51, big);
    put("(", 716, 51, big);
    put("Γ", 729, 51, big);
    put("2", 750.5, 56, small);
    put("−", 774, 51, big);
    put("0.40", 810, 51, big);
    put(")", 891, 51, big);
    put("2", 904, 35, small);
    g.font = big;
    const endX = before ? 1055 : 933;
    g.fillText("≤", endX, 51);
    g.fillText(after, endX + 36, 51);
    g.restore();
  },
});

const errorPlugin = (z: number[], hi: number[], lo: number[], idx: number) => ({
  id: "errorBars",
  beforeDatasetDraw(chart: any, args: any) {
    if (args.index !== idx) return;
    const { x, y } = chart.scales;
    const g = chart.ctx;
    g.save();
    g.strokeStyle = "#000";
    z.forEach((v, i) => {
      const px = x.getPixelForValue(v);
      const top = y.getPixelForValue(hi[i]);
      const bot = y.getPixelForValue(lo[i]);
      g.lineWidth = 4;
      g.beginPath();
      g.moveTo(px, top);
      g.lineTo(px, bot);
      g.stroke();
      g.lineWidth = 2.8;
      g.beginPath();
      g.moveTo(px - 12, top);
      g.lineTo(px + 12, top);
      g.moveTo(px - 12, bot);
      g.lineTo(px + 12, bot);
      g.stroke();
    });
    g.restore();
  },
});

function makeChart(
  canvas: HTMLCanvasElement,
  H: number,
  blue: number[][],
  yellow: number[][],
  tri: number[][],
  redZ: number[],
  redY: number[],
  blackZ: number[],
  blackY: number[],
  hi: number[],
  lo: number[],
  title: { before: string; after: string },
) {
  const blueSprite = makeBlueSprite();
  const pentSprite = makePentagonSprite();
  const tickGrid = {
    display: true,
    drawOnChartArea: false,
    drawTicks: true,
    tickLength: -19,
    tickWidth: 3,
    tickColor: "#000",
  };
  const border = { display: true, color: FRAME, width: 2 };
  const tickFont = { family: FONT, size: 36 };
  const xT = (s: any) => {
    s.ticks = xTickValues.map((value) => ({ value }));
  };
  const yT = (s: any) => {
    s.ticks = yTickValues.map((value) => ({ value }));
  };
  const fmtY = (v: any) => (Number(v) < 0 ? "−" + Math.abs(Number(v)) : String(v));
  return new Chart(canvas, {
    type: "scatter",
    data: {
      datasets: [
        { label: "Black", data: zip(blackZ, blackY), backgroundColor: "#000", borderColor: "#000", pointRadius: 11.7, borderWidth: 0, order: 0 },
        { label: "Red", data: zip(redZ, redY), backgroundColor: "#ff0000", borderColor: "#ff0000", pointRadius: 11.7, borderWidth: 0, order: 1 },
        { label: "Zero", data: zip(zeroLineX, zeroLineY), showLine: true, pointRadius: 0, borderColor: "#000", borderWidth: 4, order: 2 },
        { label: "Triangle", data: pts(tri), pointStyle: "triangle", pointRadius: 7.5, backgroundColor: "rgba(128,0,0,0.88)", borderColor: "rgba(178,34,34,0.7)", borderWidth: 1, order: 3 },
        { label: "Yellow", data: pts(yellow), pointStyle: pentSprite, order: 4 },
        { label: "Blue", data: pts(blue), pointStyle: blueSprite, order: 5 },
      ] as any,
    },
    plugins: [errorPlugin(blackZ, hi, lo, 0), titlePlugin(title.before, title.after)],
    options: {
      animation: false,
      responsive: false,
      devicePixelRatio: 1,
      events: [],
      layout: { padding: { top: 60, right: 17, left: 0, bottom: H - 948 } },
      plugins: { legend: { display: false }, tooltip: { enabled: false }, title: { display: false } },
      scales: {
        x: {
          type: "linear",
          position: "bottom",
          min: -0.049,
          max: 4.2,
          afterBuildTicks: xT,
          afterFit: (s: any) => {
            s.height = 99.5;
          },
          grid: tickGrid,
          border,
          ticks: { font: tickFont, color: "#000", padding: 21, maxRotation: 0, autoSkip: false, callback: (v: any) => Number(v).toFixed(1) },
          title: { display: true, text: "redshift", font: { family: FONT, size: 47.5 }, color: "#000", padding: { top: 0, bottom: -7 } },
        },
        x2: {
          type: "linear",
          position: "top",
          min: -0.049,
          max: 4.2,
          afterBuildTicks: xT,
          afterFit: (s: any) => {
            s.height = 0;
          },
          grid: tickGrid,
          border,
          ticks: { display: false },
        },
        y: {
          type: "linear",
          position: "left",
          min: -4.4,
          max: 4.4,
          afterBuildTicks: yT,
          afterFit: (s: any) => {
            s.width = 125;
          },
          grid: tickGrid,
          border,
          ticks: { font: tickFont, color: "#000", padding: 29, labelOffset: 1, autoSkip: false, callback: fmtY },
          title: { display: true, text: "Residuals", font: { family: FONT, size: 48 }, color: "#000", padding: { top: 4, bottom: 0 } },
        },
        y2: {
          type: "linear",
          position: "right",
          min: -4.4,
          max: 4.4,
          afterBuildTicks: yT,
          afterFit: (s: any) => {
            s.width = 0;
          },
          grid: tickGrid,
          border,
          ticks: { display: false },
        },
      },
    } as any,
  });
}

export default function App() {
  const a = useRef<HTMLCanvasElement>(null);
  const b = useRef<HTMLCanvasElement>(null);
  useEffect(() => {
    const topB = merge(topBlue, topBlueDense, 0.012, 0.035);
    const topY = merge(topYellow, topYellowDense, 0.03, 0.08);
    const c1 = makeChart(a.current!, 979, topB, topY, topTriangle, topRedZ, topRedY, topBlackZ, topBlackY, topBlackHi, topBlackLo, topTitle);
    const c2 = makeChart(b.current!, 948, botBlue, botYellow, botTriangle, botRedZ, botRedY, botBlackZ, botBlackY, botBlackHi, botBlackLo, botTitle);
    return () => {
      c1.destroy();
      c2.destroy();
    };
  }, []);
  return (
    <div style={{ position: "absolute", left: 0, top: 0, width: WIDTH, height: 1927, background: "#fff", overflow: "hidden" }}>
      <canvas ref={a} width={WIDTH} height={979} style={{ position: "absolute", left: 0, top: 0, display: "block" }} />
      <canvas ref={b} width={WIDTH} height={948} style={{ position: "absolute", left: 0, top: 979, display: "block" }} />
    </div>
  );
}
